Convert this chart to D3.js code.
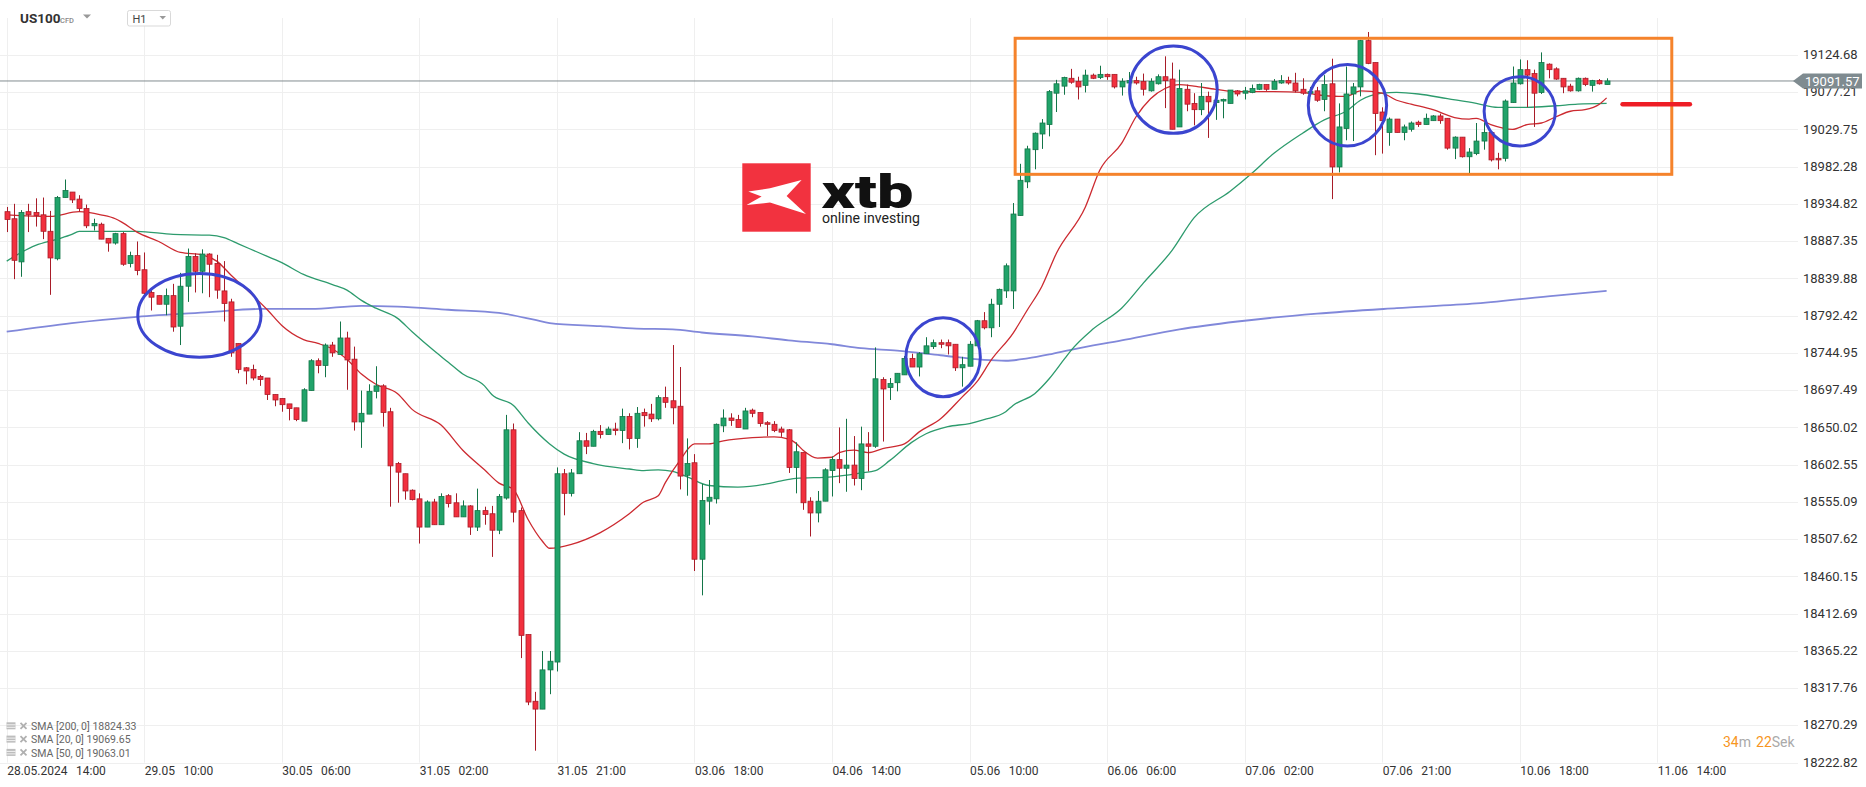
<!DOCTYPE html>
<html><head><meta charset="utf-8">
<script src="https://cdn.jsdelivr.net/npm/d3@7"></script>
<style>
html,body{margin:0;padding:0;background:#fff;overflow:hidden;}
svg{display:block;font-family:Roboto,"Noto Sans",sans-serif;}
</style></head><body>
<svg id="chart" width="1866" height="787"></svg>
<script>
// ---------------- DATA ----------------
const symbol = "US100", instrumentType = "CFD", interval = "H1";
const currentPrice = 19091.57;

const opens = [18925,18916,18861,18925,18924,18921,18900,18865,18943,18950,
18941,18929,18907,18909,18891,18885,18897,18859,18869,18851,
18822,18818,18807,18818,18779,18830,18868,18849,18871,18859,
18824,18810,18757,18726,18724,18715,18713,18692,18687,18680,
18675,18658,18697,18735,18729,18755,18743,18764,18737,18657,
18667,18696,18703,18670,18604,18591,18570,18559,18523,18555,
18526,18563,18554,18536,18550,18523,18544,18540,18519,18560,
18647,18544,18386,18301,18291,18341,18351,18591,18566,18591,
18633,18626,18645,18641,18648,18646,18664,18636,18669,18667,
18661,18688,18684,18677,18589,18605,18482,18556,18559,18652,
18662,18660,18648,18672,18669,18656,18654,18648,18647,18599,
18618,18556,18541,18556,18595,18609,18598,18602,18585,18629,
18626,18711,18701,18707,18717,18738,18727,18744,18753,18758,
18758,18756,18726,18728,18754,18786,18777,18807,18824,18824,
18920,18963,19004,19024,19036,19076,19085,19095,19091,19086,
19099,19096,19100,19100,19084,19089,19092,19091,19079,19088,
19097,19094,19033,19081,19063,19055,19072,19064,19066,19063,
19079,19076,19077,19081,19087,19081,19089,19092,19089,19081,
19076,19079,19068,19088,18982,19031,19075,19084,19143,19115,
19052,19026,19043,19026,19030,19039,19036,19041,19047,19044,
19006,19020,18995,18999,19015,19026,18993,18993,19064,19088,
19106,19101,19077,19113,19107,19095,19085,19079,19095,19086,
19092,19087];

const highs = [18931,18935,18927,18935,18942,18943,18926,18945,18966,18950,
18946,18934,18916,18911,18891,18898,18899,18874,18887,18873,
18825,18818,18827,18833,18847,18878,18872,18877,18872,18870,
18862,18814,18757,18727,18730,18717,18713,18692,18687,18680,
18675,18700,18737,18738,18757,18759,18785,18772,18753,18697,
18705,18728,18705,18675,18606,18591,18571,18566,18557,18559,
18566,18565,18566,18557,18551,18572,18549,18550,18565,18666,
18655,18548,18386,18313,18365,18365,18599,18597,18597,18644,
18643,18647,18653,18651,18656,18674,18668,18676,18674,18680,
18691,18702,18755,18727,18636,18616,18578,18583,18655,18673,
18668,18666,18675,18674,18669,18658,18658,18651,18648,18631,
18618,18561,18569,18598,18613,18650,18661,18639,18651,18644,
18752,18714,18713,18719,18741,18744,18746,18765,18762,18762,
18762,18756,18740,18760,18787,18797,18814,18827,18859,18936,
18986,19009,19026,19043,19080,19093,19097,19107,19097,19106,
19101,19111,19101,19100,19095,19103,19097,19101,19095,19100,
19123,19115,19106,19087,19076,19089,19078,19084,19069,19080,
19080,19084,19087,19088,19087,19094,19099,19097,19102,19095,
19084,19084,19099,19120,19063,19110,19089,19144,19154,19115,
19058,19045,19043,19036,19040,19041,19050,19048,19050,19044,
19021,19020,19006,19038,19039,19027,19000,19068,19110,19119,
19118,19106,19128,19114,19109,19095,19088,19096,19096,19093,
19094,19095];

const lows = [18899,18839,18842,18899,18906,18890,18819,18863,18943,18936,
18925,18904,18901,18890,18874,18883,18856,18854,18844,18817,
18799,18807,18793,18772,18755,18810,18822,18821,18816,18814,
18785,18740,18719,18705,18710,18703,18685,18677,18670,18659,
18658,18658,18697,18719,18714,18740,18743,18698,18646,18624,
18667,18687,18651,18549,18554,18558,18557,18502,18523,18526,
18526,18548,18536,18536,18513,18518,18526,18485,18514,18558,
18529,18356,18296,18238,18291,18310,18339,18538,18562,18591,
18616,18626,18636,18641,18640,18630,18622,18624,18651,18657,
18659,18675,18654,18571,18563,18467,18436,18526,18553,18644,
18652,18650,18648,18663,18651,18639,18644,18638,18592,18566,
18545,18511,18529,18556,18562,18579,18568,18576,18570,18594,
18624,18632,18685,18696,18717,18727,18715,18744,18750,18751,
18743,18722,18702,18728,18754,18775,18765,18778,18815,18801,
18920,18955,18979,19005,19021,19052,19074,19088,19068,19077,
19094,19094,19093,19082,19073,19087,19087,19073,19078,19087,
19057,19030,19033,19053,19035,19048,19019,19042,19044,19063,
19072,19068,19076,19080,19079,19081,19088,19087,19077,19074,
19072,19065,19053,18941,18975,19016,19015,19072,19113,18997,
18999,19009,19026,19016,19027,19033,19036,19041,19037,19004,
18992,18994,18974,18997,19004,18989,18979,18989,19064,19087,
19058,19033,19075,19095,19093,19076,19078,19078,19085,19078,
19087,19087];

const closes = [18915,18863,18924,18921,18920,18900,18866,18943,18952,18940,
18929,18907,18910,18890,18885,18897,18858,18869,18850,18821,
18816,18807,18818,18778,18830,18868,18849,18871,18858,18825,
18808,18745,18724,18722,18713,18711,18692,18685,18679,18674,
18660,18698,18735,18729,18755,18745,18764,18736,18657,18668,
18696,18703,18669,18601,18593,18569,18558,18523,18555,18526,
18562,18553,18536,18550,18523,18544,18539,18519,18562,18647,
18542,18385,18300,18291,18341,18352,18591,18566,18592,18633,
18626,18645,18641,18648,18646,18664,18636,18668,18665,18661,
18688,18682,18675,18588,18604,18482,18557,18561,18654,18662,
18659,18650,18671,18668,18655,18654,18646,18644,18599,18619,
18554,18541,18556,18596,18609,18598,18602,18585,18629,18626,
18712,18699,18706,18719,18738,18727,18744,18754,18758,18756,
18754,18726,18730,18756,18786,18777,18807,18826,18856,18922,
18965,19005,19025,19038,19078,19088,19096,19090,19084,19099,
19095,19100,19097,19084,19091,19092,19089,19081,19091,19097,
19092,19030,19082,19062,19055,19072,19065,19067,19068,19080,
19075,19079,19082,19087,19081,19091,19092,19089,19079,19076,
19078,19067,19087,18982,19033,19075,19084,19143,19114,19050,
19041,19043,19026,19033,19038,19036,19044,19047,19041,19006,
19020,18995,19001,19015,19026,18991,18991,19066,19089,19106,
19099,19076,19115,19106,19094,19084,19079,19095,19087,19092,
19088,19091.57];

// SMA readings: [bar index, value]
const sma20 = [[0,18921],[6,18919],[10,18925],[13,18921],[15,18916],[16,18911],[18,18899],[21,18887],[24,18873],[27,18870],[29,18862],[31,18844],[33,18827],[36,18800],[38,18780],[41,18762],[43,18757],[45,18750],[47,18737],[49,18718],[51,18705],[54,18693],[56,18673],[60,18653],[63,18621],[66,18596],[68,18579],[70,18571],[72,18533],[74,18505],[75,18496],[78,18501],[82,18516],[86,18540],[88,18555],[90,18563],[91,18580],[93,18608],[95,18629],[97,18629],[99,18633],[103,18637],[106,18638],[108,18635],[109,18630],[110,18621],[112,18611],[114,18612],[115,18618],[117,18621],[119,18618],[121,18623],[124,18629],[126,18644],[129,18661],[132,18689],[134,18708],[136,18736],[139,18770],[141,18800],[143,18830],[145,18872],[149,18931],[151,18978],[154,19012],[156,19046],[158,19069],[160,19082],[162,19087],[164,19085],[167,19081],[170,19078],[175,19078],[179,19077],[181,19074],[184,19072],[185,19072],[187,19079],[190,19076],[192,19067],[194,19062],[197,19055],[200,19045],[202,19043],[203,19044],[205,19036],[208,19030],[210,19036],[212,19038],[214,19046],[216,19053],[218,19055],[220,19062],[221,19070]];
const sma50 = [[0,18862],[2,18873],[4,18882],[7,18890],[9,18896],[10,18900],[13,18900],[18,18900],[23,18896],[28,18895],[30,18892],[32,18884],[35,18872],[38,18860],[41,18845],[45,18832],[47,18825],[49,18812],[51,18802],[54,18789],[56,18772],[59,18748],[61,18733],[63,18718],[66,18703],[67,18692],[70,18678],[72,18656],[75,18629],[77,18616],[81,18604],[86,18597],[88,18595],[90,18596],[92,18594],[94,18587],[97,18576],[101,18574],[105,18578],[107,18582],[109,18585],[114,18587],[118,18592],[120,18595],[122,18608],[125,18631],[127,18642],[130,18651],[133,18655],[135,18660],[138,18670],[139,18678],[142,18693],[144,18712],[146,18736],[147,18748],[150,18775],[154,18802],[157,18834],[161,18876],[164,18917],[169,18951],[172,18974],[175,18999],[179,19025],[182,19042],[185,19053],[187,19067],[190,19076],[192,19077],[195,19075],[199,19069],[203,19063],[206,19058],[210,19058],[214,19060],[217,19062],[221,19063]];
const sma200 = [[0,18772],[9,18783],[18,18791],[28,18797],[35,18801],[42,18801],[49,18805],[54,18804],[61,18800],[68,18796],[73,18787],[75,18783],[82,18779],[87,18776],[92,18775],[96,18771],[103,18766],[108,18761],[114,18756],[118,18751],[123,18748],[129,18742],[135,18736],[138,18735],[141,18738],[144,18743],[147,18749],[154,18761],[162,18775],[170,18785],[181,18795],[192,18802],[203,18808],[214,18818],[221,18824]];

const yTicks = [19124.68,19077.21,19029.75,18982.28,18934.82,18887.35,18839.88,18792.42,18744.95,18697.49,18650.02,18602.55,18555.09,18507.62,18460.15,18412.69,18365.22,18317.76,18270.29,18222.82];
const timeBars = [0,19,38,57,76,95,114,133,152,171,190,209,228];
const timeDates = ["28.05.2024","29.05","30.05","31.05","31.05","03.06","04.06","05.06","06.06","07.06","07.06","10.06","11.06"];
const timeHours = ["14:00","10:00","06:00","02:00","21:00","18:00","14:00","10:00","06:00","02:00","21:00","18:00","14:00"];

const legendNames = ["SMA [200, 0]","SMA [20, 0]","SMA [50, 0]"];
const legendValues = [18824.33, 19069.65, 19063.01];

// annotations (bar index / price units)
const boxBars = [139.3, 230.0], boxPrices = [18972.6, 19146.0];
const ellipseBars = [26.62, 129.35, 161.16, 185.2, 209.0];
const ellipsePrices = [18792.7, 18739.5, 19080.5, 19060.7, 19052.9];
const ellipseRxBars = [8.51, 5.14, 6.05, 5.41, 4.92];
const ellipseRyPrices = [53.4, 50.3, 55.7, 52.0, 44.2];
const markerBars = [223.2, 232.5], markerPrice = 19062;

// ---------------- DRAW ----------------
const svg = d3.select('#chart');
const x = d3.scaleLinear().domain([0,228]).range([6.7,1657.3]);
const y = d3.scaleLinear().domain([18222.82,19124.68]).range([762.6,55]);
const plotRight = 1798, plotTop = 18, plotBottom = 762.6;
const pxPerBar = x(1)-x(0);

// grid
const grid = svg.append('g');
grid.selectAll('line.h').data(yTicks).join('line').attr('class','h')
  .attr('x1',0).attr('x2',plotRight)
  .attr('y1',d=>Math.round(y(d))+0.5).attr('y2',d=>Math.round(y(d))+0.5)
  .attr('stroke','#efefef').attr('stroke-width',1);
grid.selectAll('line.v').data(timeBars).join('line').attr('class','v')
  .attr('x1',d=>Math.round(x(d))+0.5).attr('x2',d=>Math.round(x(d))+0.5)
  .attr('y1',plotTop).attr('y2',plotBottom)
  .attr('stroke','#efefef').attr('stroke-width',1);

// y axis labels
const yAxis = d3.axisRight(y).tickValues(yTicks).tickFormat(d3.format('.2f')).tickSize(0).tickPadding(0);
const gy = svg.append('g').attr('transform','translate(1803,0)').call(yAxis);
gy.select('.domain').remove();
gy.selectAll('text').attr('font-family','Roboto, sans-serif').attr('font-size',13).attr('fill','#333').attr('dy','0.28em');

// x axis labels
const xAxis = d3.axisBottom(x).tickValues(timeBars).tickSize(0).tickPadding(4).tickFormat(()=>'');
const gx = svg.append('g').attr('transform',`translate(0,${plotBottom})`).call(xAxis);
gx.select('.domain').remove();
gx.selectAll('.tick text').each(function(d,i){
  const t = d3.select(this).attr('text-anchor','start').attr('x',0)
    .attr('font-family','Roboto, sans-serif').attr('font-size',12).attr('fill','#333');
  t.text(null);
  t.append('tspan').text(timeDates[i]);
  t.append('tspan').attr('dx',8.5).text(timeHours[i]);
});

// SMA lines
const line = d3.line().x(d=>x(d[0])).y(d=>y(d[1])).curve(d3.curveMonotoneX);
svg.append('path').datum(sma200).attr('d',line).attr('fill','none').attr('stroke','#8188da').attr('stroke-width',1.8);
svg.append('path').datum(sma50).attr('d',line).attr('fill','none').attr('stroke','#2d9b6d').attr('stroke-width',1.3);
svg.append('path').datum(sma20).attr('d',line).attr('fill','none').attr('stroke','#cc2a30').attr('stroke-width',1.3);

// current price line
svg.append('line').attr('x1',0).attr('x2',1796)
  .attr('y1',y(currentPrice)).attr('y2',y(currentPrice))
  .attr('stroke','#838c90').attr('stroke-width',1);

// candles
const candles = d3.range(opens.length).map(i=>({i,o:opens[i],h:highs[i],l:lows[i],c:closes[i]}));
const cg = svg.append('g');
const upFill='#21a36a', upLine='#137548', dnFill='#f2303e', dnLine='#a81c28';
cg.selectAll('line.wick').data(candles).join('line').attr('class','wick')
  .attr('x1',d=>Math.round(x(d.i))+0.5).attr('x2',d=>Math.round(x(d.i))+0.5)
  .attr('y1',d=>y(d.h)).attr('y2',d=>y(d.l))
  .attr('stroke',d=>d.c>=d.o?upLine:dnLine).attr('stroke-width',1);
cg.selectAll('rect.body').data(candles).join('rect').attr('class','body')
  .attr('x',d=>Math.round(x(d.i))-2).attr('width',5)
  .attr('y',d=>y(Math.max(d.o,d.c)))
  .attr('height',d=>Math.max(1.5,Math.abs(y(d.o)-y(d.c))))
  .attr('fill',d=>d.c>=d.o?upFill:dnFill)
  .attr('stroke',d=>d.c>=d.o?upLine:dnLine).attr('stroke-width',0.8);

// annotations
svg.append('rect')
  .attr('x',x(boxBars[0])).attr('y',y(boxPrices[1]))
  .attr('width',x(boxBars[1])-x(boxBars[0])).attr('height',y(boxPrices[0])-y(boxPrices[1]))
  .attr('fill','none').attr('stroke','#f5832b').attr('stroke-width',3);
svg.append('g').selectAll('ellipse').data(ellipseBars).join('ellipse')
  .attr('cx',d=>x(d)).attr('cy',(d,i)=>y(ellipsePrices[i]))
  .attr('rx',(d,i)=>ellipseRxBars[i]*pxPerBar)
  .attr('ry',(d,i)=>y(ellipsePrices[i]-ellipseRyPrices[i])-y(ellipsePrices[i]))
  .attr('fill','none').attr('stroke','#3b45cf').attr('stroke-width',3);
svg.append('line').attr('x1',x(markerBars[0])).attr('x2',x(markerBars[1]))
  .attr('y1',y(markerPrice)).attr('y2',y(markerPrice))
  .attr('stroke','#ee1d25').attr('stroke-width',4.5).attr('stroke-linecap','round');

// price tag
const py = y(currentPrice);
svg.append('path').attr('d',`M1793,${py} L1803,${py-7.5} L1862,${py-7.5} L1862,${py+7.5} L1803,${py+7.5} Z`).attr('fill','#7f8b90');
svg.append('text').attr('x',1805).attr('y',py).attr('dy','0.36em').attr('font-size',13).attr('fill','#fff').text(d3.format('.2f')(currentPrice));

// logo
const logo = svg.append('g').attr('transform','translate(742.3,163.3)');
logo.append('rect').attr('width',68.4).attr('height',68.4).attr('fill','#f2323f');
logo.append('path').attr('d','M6,28.3 L27.7,25 L59.3,16.7 L44.3,32.7 L63.7,50.7 L27.7,39.3 L4.3,41.7 L19.3,33.3 Z').attr('fill','#fff');
svg.append('text').attr('x',821.5).attr('y',208.3).attr('font-size',46).attr('font-weight',900)
  .attr('textLength',92).attr('lengthAdjust','spacingAndGlyphs').attr('fill','#111').text('xtb');
svg.append('text').attr('x',822).attr('y',223.3).attr('font-size',14)
  .attr('textLength',98).attr('lengthAdjust','spacingAndGlyphs').attr('fill','#222').text('online investing');

// header
svg.append('text').attr('x',20).attr('y',23.3).attr('font-size',13.5).attr('font-weight',700).attr('fill','#333').text(symbol);
svg.append('text').attr('x',60).attr('y',23).attr('font-size',7.5).attr('font-weight',500).attr('fill','#8a8a8a').text(instrumentType);
svg.append('path').attr('d','M83,14.5 L91,14.5 L87,18.5 Z').attr('fill','#999');
svg.append('rect').attr('x',127.5).attr('y',10.5).attr('width',43).attr('height',15.5).attr('rx',2).attr('fill','#fff').attr('stroke','#d9d9d9');
svg.append('text').attr('x',132.5).attr('y',23).attr('font-size',11).attr('fill','#444').text(interval);
svg.append('path').attr('d','M159.5,16 L166,16 L162.75,19.5 Z').attr('fill','#999');

// legend
const lg = svg.append('g');
legendNames.forEach((n,i)=>{
  const cy = 726.3 + i*13.3;
  const g = lg.append('g').attr('transform',`translate(0,${cy})`);
  g.append('rect').attr('x',6.5).attr('y',-4).attr('width',9).attr('height',7).attr('fill','#bdbdbd');
  g.append('line').attr('x1',6.5).attr('x2',15.5).attr('y1',-1.5).attr('y2',-1.5).attr('stroke','#fff').attr('stroke-width',0.8);
  g.append('line').attr('x1',6.5).attr('x2',15.5).attr('y1',1).attr('y2',1).attr('stroke','#fff').attr('stroke-width',0.8);
  g.append('path').attr('d','M20.5,-3.5 L26.5,2.5 M26.5,-3.5 L20.5,2.5').attr('stroke','#b0b0b0').attr('stroke-width',1.8);
  g.append('text').attr('x',31).attr('y',0).attr('dy','0.35em').attr('font-size',10.5).attr('fill','#666')
    .text(n + ' ' + d3.format('.2f')(legendValues[i]));
});

// timer
const tm = svg.append('text').attr('x',1723).attr('y',747.3).attr('font-size',14);
tm.append('tspan').attr('fill','#f7961f').text('34');
tm.append('tspan').attr('fill','#aaa').text('m');
tm.append('tspan').attr('fill','#f7961f').attr('dx',5).text('22');
tm.append('tspan').attr('fill','#aaa').text('Sek');
</script>
</body></html>
